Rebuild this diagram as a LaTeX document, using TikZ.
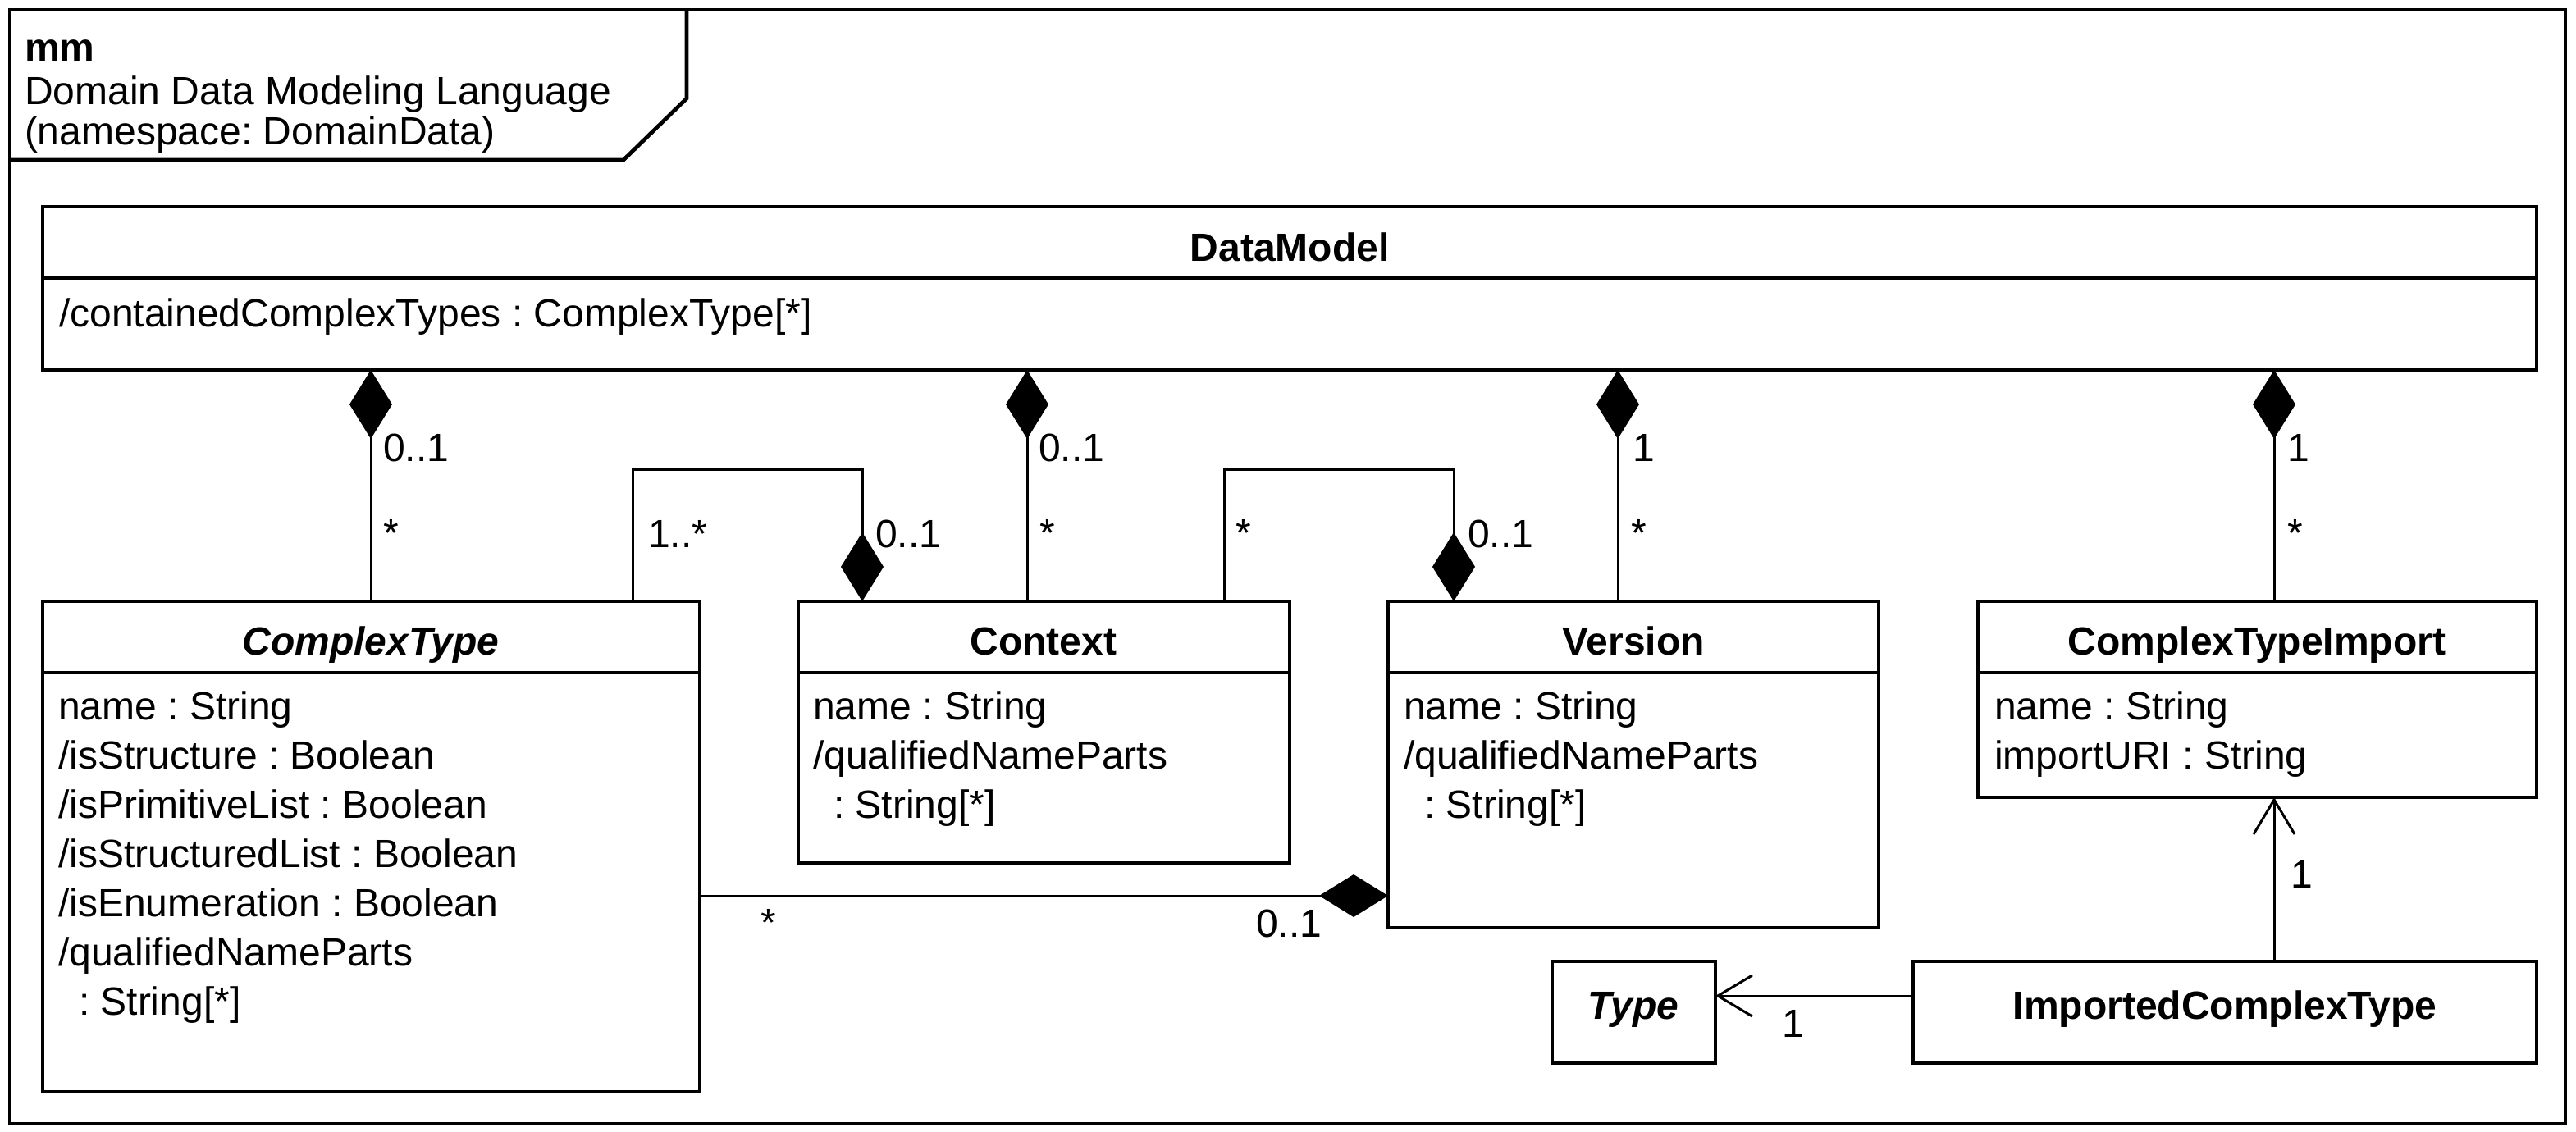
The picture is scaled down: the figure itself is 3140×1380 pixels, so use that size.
\documentclass[tikz,border=0pt]{standalone}
\usepackage{fontspec}
\setmainfont{Liberation Sans}
\usetikzlibrary{arrows.meta,fit}
\frenchspacing
\begin{document}
\frenchspacing
\begin{tikzpicture}[x=0.5pt,y=-0.5pt,
  every node/.style={inner sep=0pt, outer sep=0pt, font=\fontsize{24}{30}\selectfont},
  cls/.style={draw, line width=2.4pt, inner sep=0pt, outer sep=0pt},
  sep/.style={line width=2.4pt},
  ttl/.style={anchor=base, font=\fontsize{24}{30}\selectfont\bfseries},
  ttli/.style={anchor=base, font=\fontsize{24}{30}\selectfont\bfseries\itshape},
  attr/.style={anchor=base west},
  mult/.style={anchor=base west},
  conn/.style={line width=1.5pt},
  comp/.style={conn, {Diamond[length=42pt,width=26pt]}-},
  compend/.style={conn, -{Diamond[length=42pt,width=26pt]}},
  nav/.style={conn, -{Straight Barb[length=21pt,width=25pt]}},
]
\useasboundingbox (0,0) rectangle (3140,1380);
% frame
\draw[line width=2.4pt] (12,12) rectangle (3127,1370);
\draw[line width=2.4pt] (12,195) -- (760,195) -- (837,120) -- (837,12);
\node[attr, font=\fontsize{24}{30}\selectfont\bfseries] (fmm) at (30,75) {mm};
\node[attr] (fname) at (30,128) {Domain Data Modeling Language};
\node[attr] (fns) at (30,177) {(namespace: DomainData)};

% DataModel
\node[cls, fit={(52,252) (3092,451)}] (dm) {};
\draw[sep] (52,339) -- (3092,339);
\node[ttl] (dmt) at (1572,318) {DataModel};
\node[attr] (dma) at (72,398) {/containedComplexTypes : ComplexType[*]};

% ComplexType
\node[cls, fit={(52,733) (853,1331)}] (ct) {};
\draw[sep] (52,820) -- (853,820);
\node[ttli] (ctt) at (452,798) {ComplexType};
\node[attr] (cta1) at (71,877) {name : String};
\node[attr] (cta2) at (71,937) {/isStructure : Boolean};
\node[attr] (cta3) at (71,997) {/isPrimitiveList : Boolean};
\node[attr] (cta4) at (71,1057) {/isStructuredList : Boolean};
\node[attr] (cta5) at (71,1117) {/isEnumeration : Boolean};
\node[attr] (cta6) at (71,1177) {/qualifiedNameParts};
\node[attr] (cta7) at (96,1237) {: String[*]};

% Context
\node[cls, fit={(973,733) (1572,1052)}] (cx) {};
\draw[sep] (973,820) -- (1572,820);
\node[ttl] (cxt) at (1272,798) {Context};
\node[attr] (cxa1) at (991,877) {name : String};
\node[attr] (cxa2) at (991,937) {/qualifiedNameParts};
\node[attr] (cxa3) at (1016,997) {: String[*]};

% Version
\node[cls, fit={(1692,733) (2290,1131)}] (vs) {};
\draw[sep] (1692,820) -- (2290,820);
\node[ttl] (vst) at (1991,798) {Version};
\node[attr] (vsa1) at (1711,877) {name : String};
\node[attr] (vsa2) at (1711,937) {/qualifiedNameParts};
\node[attr] (vsa3) at (1736,997) {: String[*]};

% ComplexTypeImport
\node[cls, fit={(2411,733) (3092,972)}] (cti) {};
\draw[sep] (2411,820) -- (3092,820);
\node[ttl] (ctit) at (2751,798) {ComplexTypeImport};
\node[attr] (ctia1) at (2431,877) {name : String};
\node[attr] (ctia2) at (2431,937) {importURI : String};

% Type
\node[cls, fit={(1892,1172) (2091,1296)}] (ty) {};
\node[ttli] (tyt) at (1991,1242) {Type};

% ImportedComplexType
\node[cls, fit={(2332,1172) (3092,1296)}] (ict) {};
\node[ttl] (ictt) at (2712,1242) {ImportedComplexType};

% connector coordinates
\coordinate (k1) at (452,0);
\coordinate (k2) at (1252,0);
\coordinate (k3) at (1972,0);
\coordinate (k4) at (2772,0);
\coordinate (b1a) at (771,572);
\coordinate (b1b) at (1051,572);
\coordinate (b2a) at (1492,572);
\coordinate (b2b) at (1772,572);
\coordinate (h1) at (0,1092);
\coordinate (h2) at (0,1214);

% compositions from DataModel
\draw[comp] (dm.south -| k1) -- (ct.north -| k1);
\draw[comp] (dm.south -| k2) -- (cx.north -| k2);
\draw[comp] (dm.south -| k3) -- (vs.north -| k3);
\draw[comp] (dm.south -| k4) -- (cti.north -| k4);
% ComplexType -> Context
\draw[compend] (ct.north -| b1a) -- (b1a) -- (b1b) -- (cx.north -| b1b);
% Context -> Version
\draw[compend] (cx.north -| b2a) -- (b2a) -- (b2b) -- (vs.north -| b2b);
% ComplexType -> Version
\draw[compend] (ct.east |- h1) -- (vs.west |- h1);
% ImportedComplexType -> ComplexTypeImport
\draw[nav] (ict.north -| k4) -- (cti.south -| k4);
% ImportedComplexType -> Type
\draw[nav] (ict.west |- h2) -- (ty.east |- h2);

% multiplicities
\node[mult] (m1a) at (467,562) {0..1};
\node[mult] (m1b) at (467,666) {*};
\node[mult] (m2a) at (1266,562) {0..1};
\node[mult] (m2b) at (1267,666) {*};
\node[mult] (m3a) at (1990,562) {1};
\node[mult] (m3b) at (1988,666) {*};
\node[mult] (m4a) at (2788,562) {1};
\node[mult] (m4b) at (2788,666) {*};
\node[mult] (m5a) at (790,667) {1..*};
\node[mult] (m5b) at (1067,667) {0..1};
\node[mult] (m6a) at (1506,666) {*};
\node[mult] (m6b) at (1789,667) {0..1};
\node[mult] (m7a) at (927,1141) {*};
\node[mult] (m7b) at (1531,1142) {0..1};
\node[mult] (m8) at (2792,1082) {1};
\node[mult] (m9) at (2172,1264) {1};
\end{tikzpicture}
\end{document}
